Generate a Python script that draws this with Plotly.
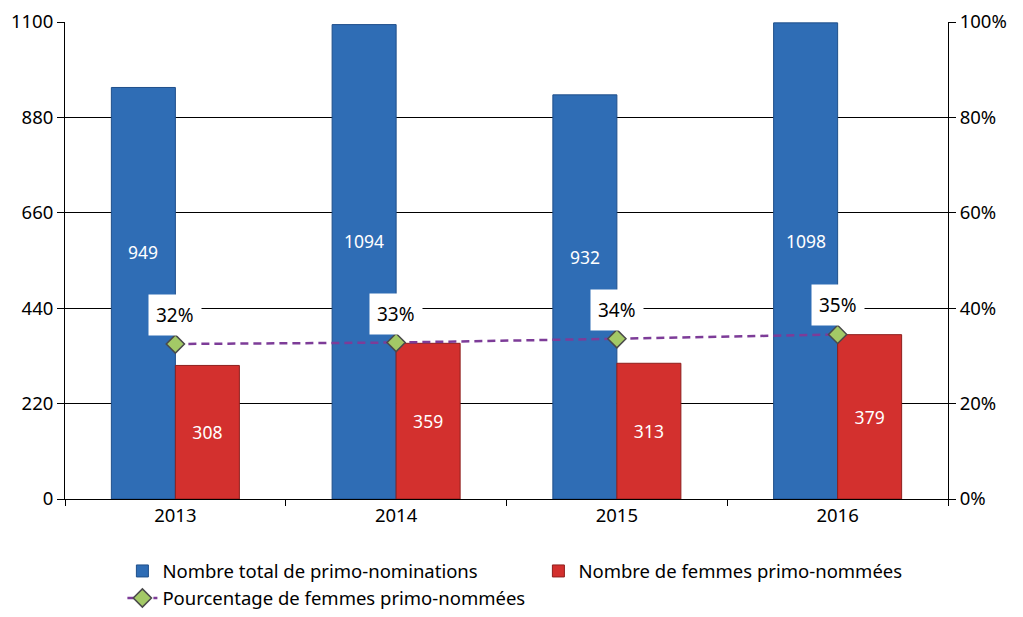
import plotly.graph_objects as go

# Données
annees = ['2013', '2014', '2015', '2016']
total_nominations = [949, 1094, 932, 1098]
femmes_nommees = [308, 359, 313, 379]
pourcentage_femmes = [32.5, 32.8, 33.6, 34.5]
pourcentage_labels = ['32%', '33%', '34%', '35%']
ticks_pct = [0, 20, 40, 60, 80, 100]
ticks_pct_txt = ['0%', '20%', '40%', '60%', '80%', '100%']

BLEU = '#2F6DB5'
ROUGE = '#D3302E'
VIOLET = '#7D3C98'
VERT = '#A3C966'
FONT = 'Noto Sans'

fig = go.Figure()

fig.add_trace(go.Bar(
    x=annees, y=total_nominations,
    name='Nombre total de primo-nominations',
    marker=dict(color=BLEU, line=dict(color='#1F4F8A', width=1)),
    hoverinfo='y',
))

fig.add_trace(go.Bar(
    x=annees, y=femmes_nommees,
    name='Nombre de femmes primo-nommées',
    marker=dict(color=ROUGE, line=dict(color='#8E1F1D', width=1)),
    text=[str(v) for v in femmes_nommees],
    textposition='inside', insidetextanchor='middle',
    textfont=dict(color='white', size=17.5, family=FONT),
    hoverinfo='y',
))

fig.add_trace(go.Scatter(
    x=annees, y=pourcentage_femmes,
    name='Pourcentage de femmes primo-nommées',
    yaxis='y2', mode='lines+markers',
    line=dict(color=VIOLET, width=2.5, dash='8px,5px'),
    marker=dict(symbol='diamond', size=14, color=VERT,
                line=dict(color='#4A4A4A', width=1.5)),
))

# Étiquettes des barres bleues (axe catégoriel : position par index)
for i, v in enumerate(total_nominations):
    fig.add_annotation(x=i, y=min(v * 0.6, 596), text=str(v), showarrow=False,
                       xshift=-32, font=dict(color='white', size=17.5, family=FONT))

# Étiquettes de pourcentage dans des cadres blancs
for i, (p, lab) in enumerate(zip(pourcentage_femmes, pourcentage_labels)):
    fig.add_annotation(x=i, y=p, yref='y2', text=lab, showarrow=False,
                       yshift=29, bgcolor='white', borderpad=7,
                       font=dict(color='black', size=19, family=FONT))

# la page ajoute une marge de 8 px autour du graphique
fig.update_layout(
    width=1023, height=617,
    margin=dict(l=57, r=83, t=14, b=126, autoexpand=False),
    plot_bgcolor='white', paper_bgcolor='white',
    font=dict(family=FONT, size=18, color='black'),
    barmode='group', bargap=0.42, bargroupgap=0,
    showlegend=True,
    legend=dict(orientation='h', x=0.065, xanchor='left', y=-0.112, yanchor='top',
                entrywidth=371, traceorder='normal',
                font=dict(size=18.5, family=FONT)),
    xaxis=dict(type='category', range=[-0.5, 3.5], showline=True,
               linecolor='black', linewidth=1,
               ticks='outside', tickson='boundaries', ticklen=6, tickcolor='black',
               showgrid=False, tickfont=dict(size=18.5)),
    yaxis=dict(range=[0, 1100], tickvals=[0, 220, 440, 660, 880, 1100],
               showline=True, linecolor='black', linewidth=1,
               ticks='outside', ticklen=7, tickcolor='black',
               showgrid=True, gridcolor='black', gridwidth=1, zeroline=False,
               ticklabeloverflow='allow', tickfont=dict(size=18.5)),
    yaxis2=dict(range=[0, 100], overlaying='y', side='right',
                tickvals=ticks_pct, ticktext=ticks_pct_txt,
                showline=True, linecolor='black', linewidth=1,
                ticks='outside', ticklen=7, tickcolor='black',
                showgrid=False, zeroline=False,
                ticklabeloverflow='allow', tickfont=dict(size=18.5)),
)

fig.write_html('out.html')
